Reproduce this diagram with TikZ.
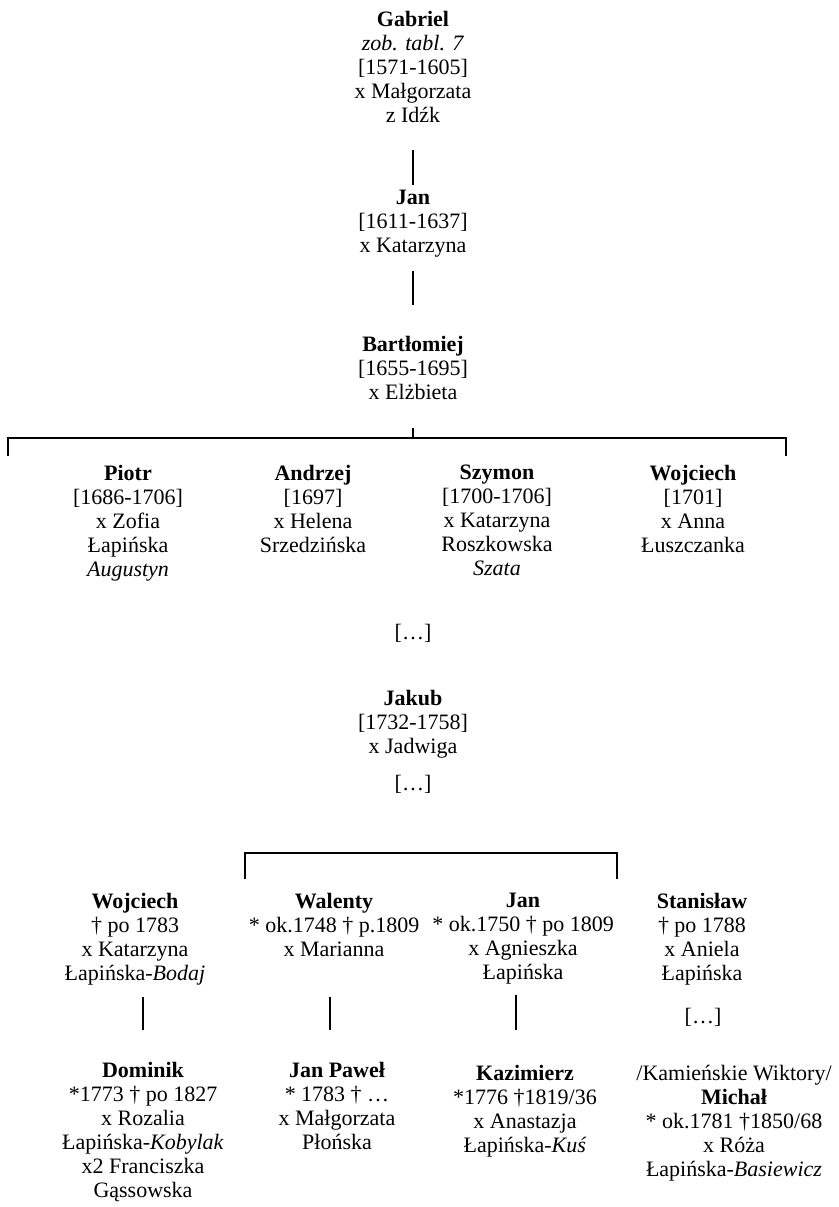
\documentclass[tikz,border=0pt]{standalone}
\usepackage{fontspec}
\setmainfont{Liberation Serif}
\begin{document}
\begin{tikzpicture}[x=1pt,y=-1pt,
  person/.style={align=center, inner sep=0pt, anchor=north, font=\fontsize{22}{24}\selectfont},
  dotsnode/.style={inner sep=0pt, anchor=center, font=\fontsize{22}{24}\selectfont},
  link/.style={line width=1.8pt}]
\useasboundingbox[fill=white] (0,0) rectangle (838,1207);

% generation 1-3
\node[person] (gabriel) at (413,11) {\textbf{Gabriel}\\\textit{zob. tabl. 7}\\{[1571-1605]}\\x Małgorzata\\z Idźk};
\node[person] (jan) at (413,190) {\textbf{Jan}\\{[1611-1637]}\\x Katarzyna};
\node[person] (bartlomiej) at (413,336) {\textbf{Bartłomiej}\\{[1655-1695]}\\x Elżbieta};

\draw[link, shorten <=27pt, shorten >=5pt] (gabriel.south) -- (jan.north);
\draw[link, shorten <=13pt, shorten >=31pt] (jan.south) -- (bartlomiej.north);

% children of Bartłomiej
\node[person] (piotr) at (128,465) {\textbf{Piotr}\\{[1686-1706]}\\x Zofia\\Łapińska\\\textit{Augustyn}};
\node[person] (andrzej) at (313,465) {\textbf{Andrzej}\\{[1697]}\\x Helena\\Srzedzińska};
\node[person] (szymon) at (497,465) {\textbf{Szymon}\\{[1700-1706]}\\x Katarzyna\\Roszkowska\\\textit{Szata}};
\node[person] (wojciechA) at (693,465) {\textbf{Wojciech}\\{[1701]}\\x Anna\\Łuszczanka};

\coordinate (barA) at (413,438);
\coordinate (barAL) at (8,438);
\coordinate (barAR) at (786,438);
\coordinate (tickAL) at (8,456);
\coordinate (tickAR) at (786,456);
\draw[link, shorten <=28pt] (bartlomiej.south) -- (barA);
\draw[link] (tickAL) -- (barAL) -- (barAR) -- (tickAR);

\node[dotsnode] (dotsA) at (413,633) {[…]};

% Jakub
\node[person] (jakub) at (413,690) {\textbf{Jakub}\\{[1732-1758]}\\x Jadwiga};
\node[dotsnode] (dotsB) at (413,784) {[…]};

% bracket over Walenty and Jan
\coordinate (barBL) at (245,853);
\coordinate (barBR) at (617,853);
\coordinate (tickBL) at (245,879);
\coordinate (tickBR) at (617,879);
\draw[link] (tickBL) -- (barBL) -- (barBR) -- (tickBR);

% generation row
\node[person] (wojciechB) at (135,893) {\textbf{Wojciech}\\† po 1783\\x Katarzyna\\Łapińska-\textit{Bodaj}};
\node[person] (walenty) at (334,893) {\textbf{Walenty}\\* ok.1748 † p.1809\\x Marianna};
\node[person] (janB) at (523,893) {\textbf{Jan}\\* ok.1750 † po 1809\\x Agnieszka\\Łapińska};
\node[person] (stanislaw) at (702,893) {\textbf{Stanisław}\\† po 1788\\x Aniela\\Łapińska};
\node[dotsnode] (dotsC) at (703,1017) {[…]};

% last row
\node[person] (dominik) at (143,1062) {\textbf{Dominik}\\*1773 † po 1827\\x Rozalia\\Łapińska-\textit{Kobylak}\\x2 Franciszka\\Gąssowska};
\node[person] (janpawel) at (337,1062) {\textbf{Jan Paweł}\\* 1783 † …\\x Małgorzata\\Płońska};
\node[person] (kazimierz) at (525,1065) {\textbf{Kazimierz}\\*1776 †1819/36\\x Anastazja\\Łapińska-\textit{Kuś}};
\node[person] (michal) at (734,1065) {/Kamieńskie Wiktory/\\\textbf{Michał}\\* ok.1781 †1850/68\\x Róża\\Łapińska-\textit{Basiewicz}};

\draw[link, shorten <=12pt, shorten >=32pt] (dominik.north |- wojciechB.south) -- (dominik.north);
\draw[link, shorten <=40pt, shorten >=32pt] ([xshift=-7pt]janpawel.north |- walenty.south) -- ([xshift=-7pt]janpawel.north);
\draw[link, shorten <=10pt, shorten >=35pt] ([xshift=-9pt]kazimierz.north |- janB.south) -- ([xshift=-9pt]kazimierz.north);
\end{tikzpicture}
\end{document}
